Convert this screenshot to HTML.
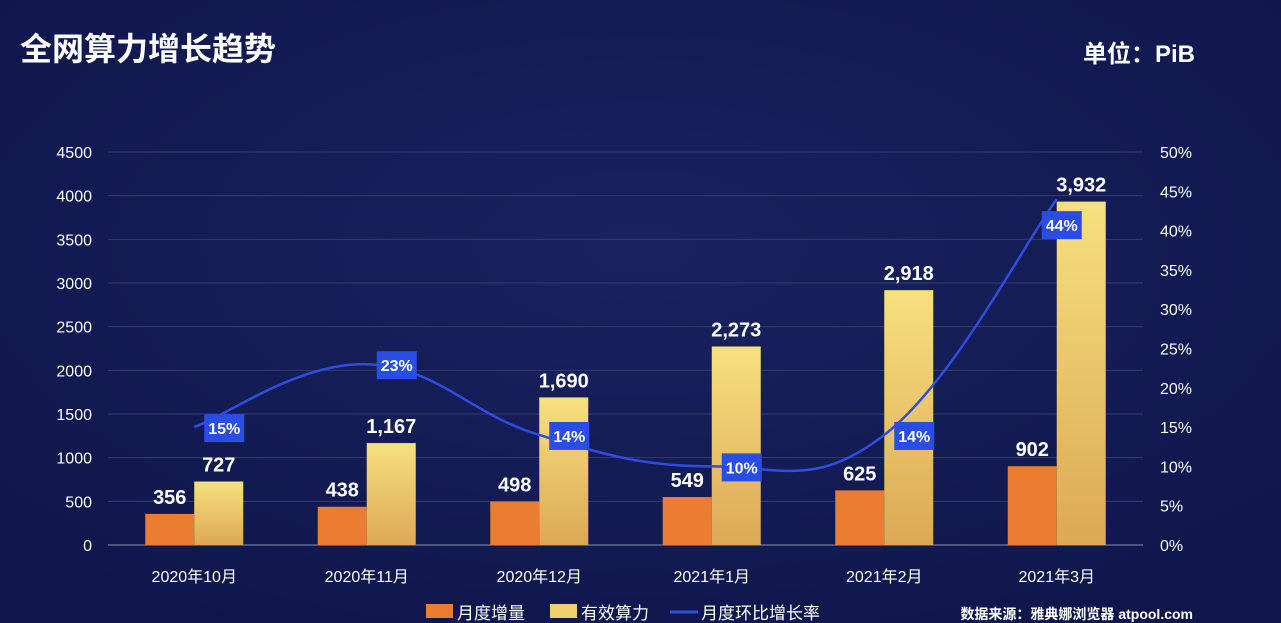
<!DOCTYPE html>
<html><head><meta charset="utf-8">
<style>
body{margin:0;width:1281px;height:623px;overflow:hidden;background:#121a55;font-family:"Liberation Sans","Noto Sans CJK SC",sans-serif;}
svg{display:block}
</style></head><body>
<svg id="c" width="1281" height="623">
<defs>
<linearGradient id="yg" x1="0" y1="0" x2="0" y2="1"><stop offset="0" stop-color="#f6e07e"/><stop offset="1" stop-color="#dca856"/></linearGradient>
<radialGradient id="bg" cx="0.5" cy="0.4" r="0.7"><stop offset="0" stop-color="#1a2360"/><stop offset="1" stop-color="#0f164c"/></radialGradient>
</defs>
<rect width="1281" height="623" fill="url(#bg)"/>
<text x="20" y="60" fill="#fff" font-size="32" font-weight="bold">全网算力增长趋势</text>
<text x="1195" y="62" fill="#fff" font-size="24" font-weight="bold" text-anchor="end">单位：PiB</text>
<g id="g"></g>
</svg>
<script>
const categories=["2020年10月","2020年11月","2020年12月","2021年1月","2021年2月","2021年3月"];
const increments=[356,438,498,549,625,902];
const totals=[727,1167,1690,2273,2918,3932];
const growth=[15,23,14,10,14,44];
const leftTicks=[0,500,1000,1500,2000,2500,3000,3500,4000,4500];
const rightTicks=[0,5,10,15,20,25,30,35,40,45,50];
const NS="http://www.w3.org/2000/svg";
const g=document.getElementById('g');
const X0=108,X1=1143,Y0=545,Y1=152;
const yL=v=>Y0-(v/4500)*(Y0-Y1);
const yR=v=>Y0-(v/50)*(Y0-Y1);
const step=(X1-X0)/categories.length;
const xC=i=>X0+step*(i+0.5);
function el(t,a,txt){const e=document.createElementNS(NS,t);for(const k in a)e.setAttribute(k,a[k]);if(txt!==undefined)e.textContent=txt;g.appendChild(e);return e;}
leftTicks.forEach(v=>{
 const l=el('line',{x1:X0,x2:X1,y1:yL(v),y2:yL(v),stroke:v?'#343c6c':'#8890b0','stroke-width':1});
 
 
 const t=el('text',{x:92,y:yL(v)+6,fill:'#fff','font-size':16,'text-anchor':'end'},v);
 
 
});
rightTicks.forEach(v=>{
 const t=el('text',{x:1160,y:yR(v)+6,fill:'#fff','font-size':16},v+'%');
 
 
});
const bw=49;
categories.forEach((c,i)=>{
 const cx=xC(i);
 const t=el('text',{x:cx,y:582,fill:'#fff','font-size':16,'text-anchor':'middle'},c);
 
 
 const b1=el('rect',{x:cx-bw,y:yL(increments[i]),width:bw,height:Y0-yL(increments[i]),fill:'#ea7d32'});
 
 
 const b2=el('rect',{x:cx,y:yL(totals[i]),width:bw,height:Y0-yL(totals[i]),fill:'url(#yg)'});
 
 
 const l1=el('text',{x:cx-bw/2,y:yL(increments[i])-10,fill:'#fff','font-size':20,'font-weight':'bold','text-anchor':'middle'},increments[i].toLocaleString('en-US'));
 
 
 const l2=el('text',{x:cx+bw/2,y:yL(totals[i])-10,fill:'#fff','font-size':20,'font-weight':'bold','text-anchor':'middle'},totals[i].toLocaleString('en-US'));
 
 
});
const pts=growth.map((v,i)=>[xC(i),yR(v)]);
let d='M'+pts[0][0]+','+pts[0][1];
for(let i=0;i<pts.length-1;i++){
 const p0=pts[i-1]||pts[i],p1=pts[i],p2=pts[i+1],p3=pts[i+2]||p2;
 const k=0.2;
 d+=` C${p1[0]+(p2[0]-p0[0])*k},${p1[1]+(p2[1]-p0[1])*k} ${p2[0]-(p3[0]-p1[0])*k},${p2[1]-(p3[1]-p1[1])*k} ${p2[0]},${p2[1]}`;
}
const ln=el('path',{d:d,fill:'none',stroke:'#2f4ee0','stroke-width':2.5});


pts.forEach((p,i)=>{
 const last=i===pts.length-1;
 const cx=last?p[0]+5:p[0]+30, cy=last?p[1]+26:p[1]+1;
 const r=el('rect',{x:cx-20,y:cy-14,width:40,height:28,fill:'#2a4de6'});
 
 
 const t=el('text',{x:cx,y:cy+6,fill:'#fff','font-size':16,'font-weight':'bold','text-anchor':'middle'},growth[i]+'%');
 
 
});
const lg=[[426,'rect','#ea7d32','月度增量'],[550,'rect','#f0cf70','有效算力'],[670,'line','#2f4ee0','月度环比增长率']];
lg.forEach(([x,t,c,s])=>{
 let m;
 if(t==='rect')m=el('rect',{x:x,y:604,width:27,height:14,fill:c});
 else m=el('line',{x1:x,x2:x+28,y1:612,y2:612,stroke:c,'stroke-width':3});
 
 
 const tx=el('text',{x:x+31,y:619,fill:'#fff','font-size':17},s);
 
 
});
const src=el('text',{x:1193,y:619,fill:'#fff','font-size':14,'font-weight':'bold','text-anchor':'end'},'数据来源：雅典娜浏览器 atpool.com');


</script>
</body></html>
